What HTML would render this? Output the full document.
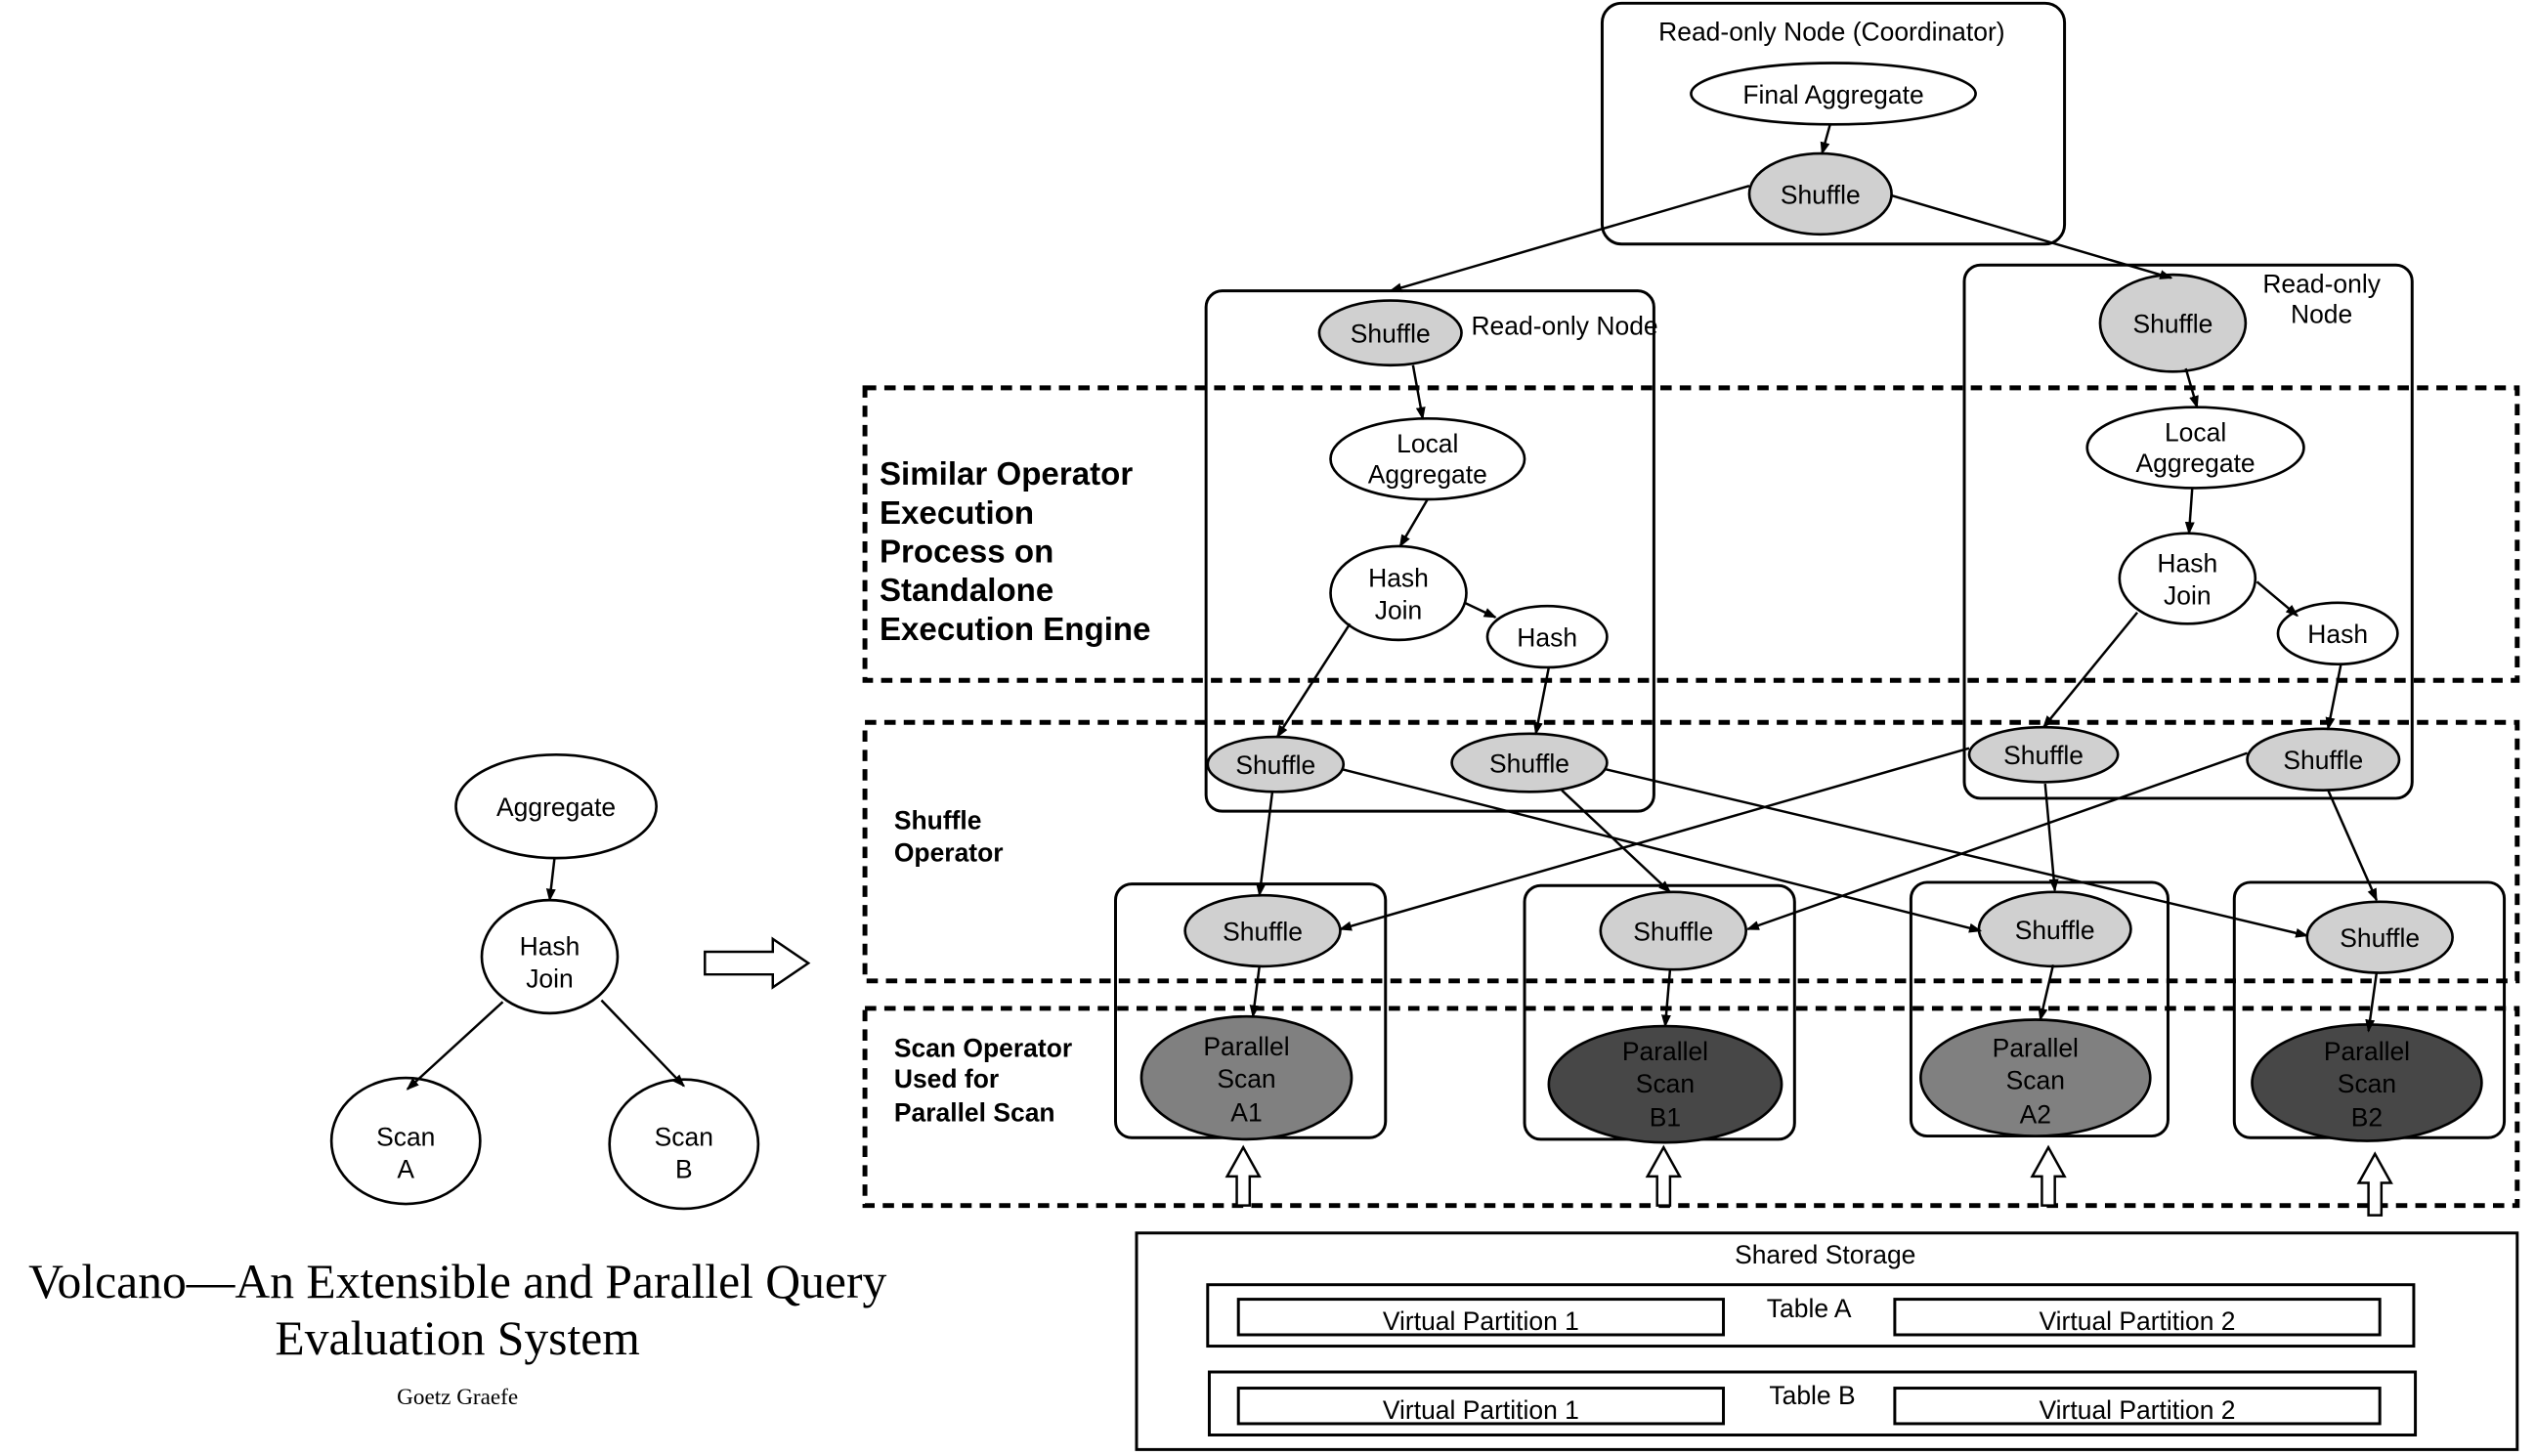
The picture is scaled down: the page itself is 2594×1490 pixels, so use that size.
<!DOCTYPE html>
<html><head><meta charset="utf-8"><style>
html,body{margin:0;padding:0;background:#fff;}
svg{display:block;}
text{font-family:"Liberation Sans",sans-serif;font-size:16px;fill:#000;}
.b{font-weight:bold;}
.t{font-family:"Liberation Serif",serif;}
</style></head><body>
<svg width="2594" height="1490" viewBox="0 0 1568 901" preserveAspectRatio="none" xmlns="http://www.w3.org/2000/svg">
<defs><marker id="a" markerWidth="8" markerHeight="8" refX="7" refY="4" orient="auto" markerUnits="userSpaceOnUse"><path d="M0,1 L8,4 L0,7 Z" fill="#000"/></marker></defs>
<g fill="none" stroke="#000" stroke-width="3" stroke-dasharray="7,5">
<rect x="535" y="240" width="1022" height="181"/>
<rect x="535" y="447" width="1022" height="160"/>
<rect x="535" y="624" width="1022" height="122"/>
</g>
<g fill="none" stroke="#000" stroke-width="1.8">
<rect x="991" y="2" width="286" height="149" rx="12"/>
<rect x="746" y="180" width="277" height="322" rx="10"/>
<rect x="1215" y="164" width="277" height="330" rx="10"/>
<rect x="690" y="547" width="167" height="157" rx="10"/>
<rect x="943" y="548" width="167" height="157" rx="10"/>
<rect x="1182" y="546" width="159" height="157" rx="10"/>
<rect x="1382" y="546" width="167" height="158" rx="10"/>
<rect x="703" y="763" width="854" height="134"/>
<rect x="747" y="795" width="746" height="38"/>
<rect x="748" y="849" width="746" height="39"/>
<rect x="766" y="804" width="300" height="22"/>
<rect x="1172" y="804" width="300" height="22"/>
<rect x="766" y="859" width="300" height="22"/>
<rect x="1172" y="859" width="300" height="22"/>
</g>
<g stroke="#000" stroke-width="1.6" fill="#fff">
<ellipse cx="1134" cy="58" rx="88" ry="19"/>
<ellipse cx="1126" cy="120" rx="44" ry="25" fill="#d0d0d0"/>
<ellipse cx="860" cy="206" rx="44" ry="20" fill="#d0d0d0"/>
<ellipse cx="883" cy="284" rx="60" ry="25"/>
<ellipse cx="865" cy="367" rx="42" ry="29"/>
<ellipse cx="957" cy="394" rx="37" ry="19"/>
<ellipse cx="789" cy="473" rx="42" ry="17" fill="#d0d0d0"/>
<ellipse cx="946" cy="472" rx="48" ry="18" fill="#d0d0d0"/>
<ellipse cx="1344" cy="200" rx="45" ry="30" fill="#d0d0d0"/>
<ellipse cx="1358" cy="277" rx="67" ry="25"/>
<ellipse cx="1353" cy="358" rx="42" ry="28"/>
<ellipse cx="1446" cy="392" rx="37" ry="19"/>
<ellipse cx="1264" cy="467" rx="46" ry="17" fill="#d0d0d0"/>
<ellipse cx="1437" cy="470" rx="47" ry="19" fill="#d0d0d0"/>
<ellipse cx="781" cy="576" rx="48" ry="22" fill="#d0d0d0"/>
<ellipse cx="1035" cy="576" rx="45" ry="24" fill="#d0d0d0"/>
<ellipse cx="1271" cy="575" rx="47" ry="23" fill="#d0d0d0"/>
<ellipse cx="1472" cy="580" rx="45" ry="22" fill="#d0d0d0"/>
<ellipse cx="771" cy="667" rx="65" ry="38" fill="#808080"/>
<ellipse cx="1030" cy="671" rx="72" ry="36" fill="#474747"/>
<ellipse cx="1259" cy="667" rx="71" ry="36" fill="#808080"/>
<ellipse cx="1464" cy="670" rx="71" ry="36" fill="#474747"/>
<ellipse cx="344" cy="499" rx="62" ry="32"/>
<ellipse cx="340" cy="592" rx="42" ry="35"/>
<ellipse cx="251" cy="706" rx="46" ry="39"/>
<ellipse cx="423" cy="708" rx="46" ry="40"/>
</g>
<g stroke="#000" stroke-width="1.5" marker-end="url(#a)">
<line x1="1132" y1="77" x2="1127" y2="95"/>
<line x1="1082" y1="115" x2="860" y2="180"/>
<line x1="1170" y1="121" x2="1343" y2="172"/>
<line x1="874" y1="226" x2="880" y2="259"/>
<line x1="883" y1="309" x2="866" y2="338"/>
<line x1="906" y1="373" x2="925" y2="382"/>
<line x1="835" y1="386" x2="790" y2="456"/>
<line x1="958" y1="413" x2="950" y2="454"/>
<line x1="1352" y1="228" x2="1359" y2="252"/>
<line x1="1356" y1="302" x2="1354" y2="330"/>
<line x1="1396" y1="360" x2="1421" y2="381"/>
<line x1="1322" y1="379" x2="1264" y2="450"/>
<line x1="1448" y1="411" x2="1440" y2="451"/>
<line x1="830" y1="476" x2="1225" y2="576"/>
<line x1="993" y1="476" x2="1427" y2="579"/>
<line x1="1218" y1="463" x2="829" y2="575"/>
<line x1="1390" y1="466" x2="1081" y2="575"/>
<line x1="787" y1="490" x2="779" y2="554"/>
<line x1="966" y1="489" x2="1033" y2="552"/>
<line x1="1265" y1="485" x2="1271" y2="551"/>
<line x1="1440" y1="489" x2="1470" y2="557"/>
<line x1="779" y1="598" x2="775" y2="629"/>
<line x1="1033" y1="600" x2="1030" y2="635"/>
<line x1="1270" y1="597" x2="1262" y2="631"/>
<line x1="1470" y1="602" x2="1465" y2="638"/>
<line x1="343" y1="531" x2="340" y2="557"/>
<line x1="311" y1="620" x2="252" y2="674"/>
<line x1="372" y1="619" x2="423" y2="672"/>
</g>
<g fill="#fff" stroke="#000" stroke-width="1.5">
<path d="M765,746 V728 H759 L769,710 L779,728 H773 V746 Z"/>
<path d="M1025,746 V728 H1019 L1029,710 L1039,728 H1033 V746 Z"/>
<path d="M1263,746 V728 H1257 L1267,710 L1277,728 H1271 V746 Z"/>
<path d="M1465,752 V732 H1459 L1469,714 L1479,732 H1473 V752 Z"/>
<path d="M436,589 H478 V581 L500,596 L478,611 V603 H436 Z"/>
</g>
<g text-anchor="middle">
<text x="1133" y="25">Read-only Node (Coordinator)</text>
<text x="1134" y="64">Final Aggregate</text>
<text x="1126" y="126">Shuffle</text>
<text x="860" y="212">Shuffle</text>
<text x="883" y="280">Local</text><text x="883" y="299">Aggregate</text>
<text x="865" y="363">Hash</text><text x="865" y="383">Join</text>
<text x="957" y="400">Hash</text>
<text x="789" y="479">Shuffle</text>
<text x="946" y="478">Shuffle</text>
<text x="1436" y="181">Read-only</text><text x="1436" y="200">Node</text>
<text x="1344" y="206">Shuffle</text>
<text x="1358" y="273">Local</text><text x="1358" y="292">Aggregate</text>
<text x="1353" y="354">Hash</text><text x="1353" y="374">Join</text>
<text x="1446" y="398">Hash</text>
<text x="1264" y="473">Shuffle</text>
<text x="1437" y="476">Shuffle</text>
<text x="781" y="582">Shuffle</text>
<text x="1035" y="582">Shuffle</text>
<text x="1271" y="581">Shuffle</text>
<text x="1472" y="586">Shuffle</text>
<text x="771" y="653" fill="#222">Parallel</text><text x="771" y="673" fill="#222">Scan</text><text x="771" y="694" fill="#222">A1</text>
<text x="1030" y="656" fill="#222">Parallel</text><text x="1030" y="676" fill="#222">Scan</text><text x="1030" y="697" fill="#222">B1</text>
<text x="1259" y="654" fill="#222">Parallel</text><text x="1259" y="674" fill="#222">Scan</text><text x="1259" y="695" fill="#222">A2</text>
<text x="1464" y="656" fill="#222">Parallel</text><text x="1464" y="676" fill="#222">Scan</text><text x="1464" y="697" fill="#222">B2</text>
<text x="1129" y="782">Shared Storage</text>
<text x="1119" y="815">Table A</text>
<text x="1121" y="869">Table B</text>
<text x="916" y="823">Virtual Partition 1</text>
<text x="1322" y="823">Virtual Partition 2</text>
<text x="916" y="878">Virtual Partition 1</text>
<text x="1322" y="878">Virtual Partition 2</text>
<text x="344" y="505">Aggregate</text>
<text x="340" y="591">Hash</text><text x="340" y="611">Join</text>
<text x="251" y="709">Scan</text><text x="251" y="729">A</text>
<text x="423" y="709">Scan</text><text x="423" y="729">B</text>
<text class="t" x="283" y="803" style="font-size:30px">Volcano—An Extensible and Parallel Query</text>
<text class="t" x="283" y="838" style="font-size:30px">Evaluation System</text>
<text class="t" x="283" y="869" style="font-size:14px">Goetz Graefe</text>
</g>
<text x="910" y="207">Read-only Node</text>
<text x="544" y="300" class="b" style="font-size:20px">Similar Operator</text>
<text x="544" y="324" class="b" style="font-size:20px">Execution</text>
<text x="544" y="348" class="b" style="font-size:20px">Process on</text>
<text x="544" y="372" class="b" style="font-size:20px">Standalone</text>
<text x="544" y="396" class="b" style="font-size:20px">Execution Engine</text>
<text x="553" y="513" class="b">Shuffle</text>
<text x="553" y="533" class="b">Operator</text>
<text x="553" y="654" class="b">Scan Operator</text>
<text x="553" y="673" class="b">Used for</text>
<text x="553" y="694" class="b">Parallel Scan</text>
</svg>
</body></html>
